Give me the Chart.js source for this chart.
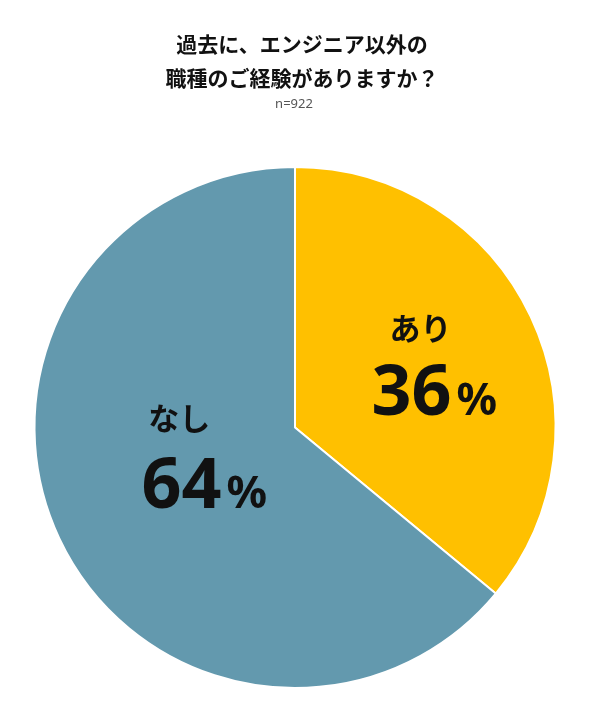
<!DOCTYPE html>
<html lang="ja">
<head>
<meta charset="utf-8">
<script src="https://cdn.jsdelivr.net/npm/chart.js@4"></script>
<style>
  html, body { margin: 0; padding: 0; background: #fff; }
  #wrap { position: relative; width: 610px; height: 724px; }
</style>
</head>
<body>
<div id="wrap"><canvas id="pieChart" width="610" height="724"></canvas></div>
<script>
// データ
const categories = ['あり', 'なし'];
const values = [36, 64];
const colors = ['#FFC000', '#6399AE'];
const titleLines = ['過去に、エンジニア以外の', '職種のご経験がありますか？'];
const sampleText = 'n=922';

// ラベル位置 (中心からの相対位置、半径に対する比率)
const namePos = [{ fx: 0.482, fy: -0.38 }, { fx: -0.444, fy: -0.036 }];
const numPos = [{ fx: 0.535, fy: -0.048 }, { fx: -0.348, fy: 0.308 }];

const labelPlugin = {
  id: 'labels',
  afterDraw(chart) {
    const ctx = chart.ctx;
    const arc = chart.getDatasetMeta(0).data[0];
    const cx = arc.x, cy = arc.y, r = arc.outerRadius;

    ctx.save();
    ctx.fillStyle = '#111';
    ctx.textAlign = 'center';
    ctx.textBaseline = 'middle';
    ctx.font = 'bold 21px "Noto Sans CJK JP"';
    ctx.fillText(titleLines[0], 302, 44);
    ctx.fillText(titleLines[1], 302, 78);
    ctx.fillStyle = '#555';
    ctx.font = '13px "Noto Sans", sans-serif';
    ctx.fillText(sampleText, 294, 104);

    categories.forEach((name, i) => {
      ctx.fillStyle = '#111';
      ctx.textAlign = 'center';
      ctx.textBaseline = 'middle';
      ctx.font = 'bold 31px "Noto Sans CJK JP"';
      ctx.fillText(name, cx + namePos[i].fx * r, cy + namePos[i].fy * r);

      const x = cx + numPos[i].fx * r;
      const y = cy + numPos[i].fy * r;
      const num = String(values[i]);
      ctx.textBaseline = 'alphabetic';
      ctx.font = 'bold 70px "Noto Sans", sans-serif';
      const nw = ctx.measureText(num).width;
      ctx.font = 'bold 45px "Noto Sans", sans-serif';
      const pw = ctx.measureText('%').width;
      const gap = 5;
      const left = x - (nw + pw + gap) / 2;
      ctx.textAlign = 'left';
      ctx.font = 'bold 70px "Noto Sans", sans-serif';
      ctx.fillText(num, left, y);
      ctx.font = 'bold 45px "Noto Sans", sans-serif';
      ctx.fillText('%', left + nw + gap, y);
    });
    ctx.restore();
  }
};

new Chart(document.getElementById('pieChart'), {
  type: 'pie',
  data: {
    labels: categories,
    datasets: [{
      data: values,
      backgroundColor: colors,
      borderColor: '#fff',
      borderWidth: 2
    }]
  },
  options: {
    responsive: false,
    animation: false,
    layout: { padding: { left: 33, right: 53, top: 166, bottom: 35 } },
    plugins: {
      legend: { display: false },
      tooltip: { enabled: false }
    }
  },
  plugins: [labelPlugin]
});
</script>
</body>
</html>
